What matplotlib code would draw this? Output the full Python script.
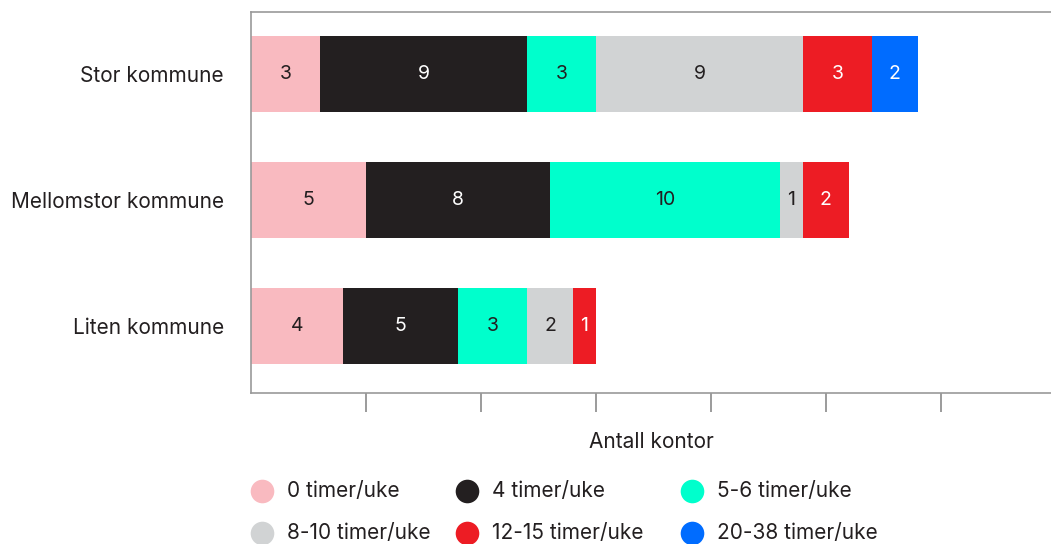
import matplotlib
matplotlib.use("Agg")
import matplotlib.pyplot as plt
from matplotlib.lines import Line2D

categories = ["Stor kommune", "Mellomstor kommune", "Liten kommune"]
series_names = ["0 timer/uke", "4 timer/uke", "5-6 timer/uke",
                "8-10 timer/uke", "12-15 timer/uke", "20-38 timer/uke"]
values = {
    "0 timer/uke":     [3, 5, 4],
    "4 timer/uke":     [9, 8, 5],
    "5-6 timer/uke":   [3, 10, 3],
    "8-10 timer/uke":  [9, 1, 2],
    "12-15 timer/uke": [3, 2, 1],
    "20-38 timer/uke": [2, 0, 0],
}
colors = ["#F9BAC0", "#231F20", "#00FFCC", "#D1D3D4", "#ED1C24", "#006CFF"]
text_colors = ["#231F20", "white", "#231F20", "#231F20", "white", "white"]

plt.rcParams['font.family'] = ['Inter', 'DejaVu Sans']

W, H = 1051, 544
fig = plt.figure(figsize=(W/100, H/100), dpi=100)
ax = fig.add_axes([251/W, 1-393/H, 801/W, (393-12)/H])

ypos = list(range(len(categories)))
left = [0]*len(categories)
for name, col, tc in zip(series_names, colors, text_colors):
    vals = values[name]
    ax.barh(ypos, vals, left=left, height=0.6, color=col, linewidth=0)
    for y, v, l in zip(ypos, vals, left):
        if v > 0:
            ax.text(l + v/2, y, str(v), ha="center", va="center",
                    color=tc, fontsize=14)
    left = [a + b for a, b in zip(left, vals)]

ax.set_xlim(0, 34.83)
ax.set_ylim(2.53, -0.49)
ax.set_yticks(ypos)
ax.set_yticklabels(categories, fontsize=15, color="#231F20")
ax.tick_params(axis="y", length=0, pad=19.5)
ax.set_xticks([5, 10, 15, 20, 25, 30])
ax.set_xticklabels([])
ax.tick_params(axis="x", length=13.5, width=1.2, color="#8a8a8a", direction="out")
for s in ["left", "top", "bottom"]:
    ax.spines[s].set_color("#999999")
    ax.spines[s].set_linewidth(1.2)
ax.spines["right"].set_visible(False)
ax.set_xlabel("Antall kontor", fontsize=15, color="#231F20", labelpad=11)

# legend drawn manually in a 3-column grid (row-wise order)
col_x = [262, 467, 692]
row_y = [491, 533]
for i, (name, col) in enumerate(zip(series_names, colors)):
    r, c = divmod(i, 3)
    x, y = col_x[c], row_y[r]
    fig.add_artist(Line2D([x/W], [1-y/H], transform=fig.transFigure,
                          marker="o", linestyle="none", markersize=17,
                          markerfacecolor=col, markeredgewidth=0))
    fig.text((x+25)/W, 1-y/H, name, ha="left", va="center",
             fontsize=15, color="#231F20")

fig.savefig("out.png", dpi=100)
